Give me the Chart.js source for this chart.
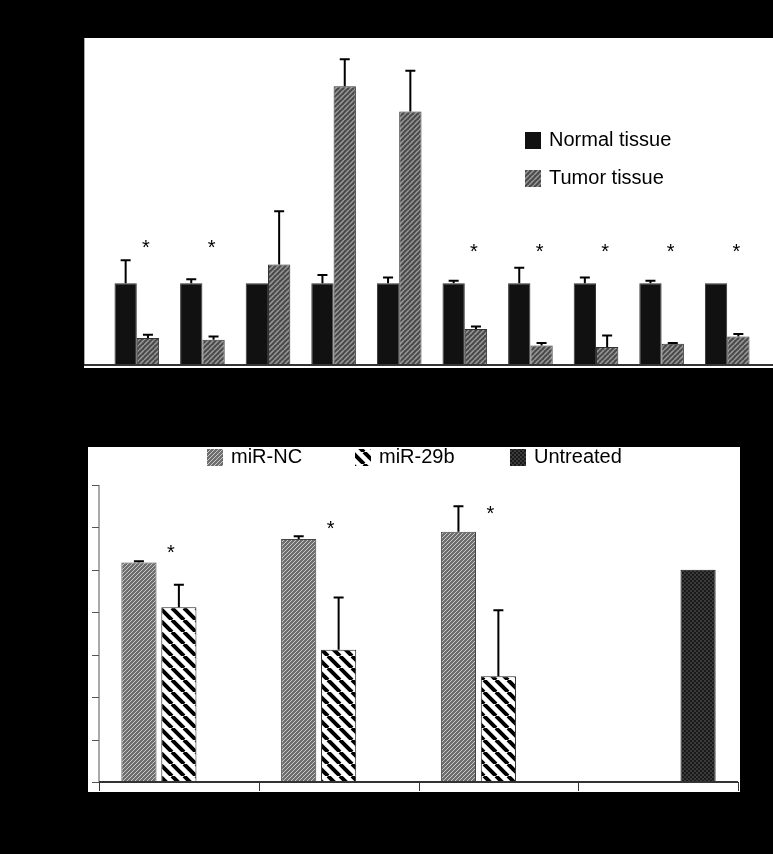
<!DOCTYPE html>
<html>
<head>
<meta charset="utf-8">
<script src="https://cdn.jsdelivr.net/npm/chart.js@4"></script>
<style>
  html, body { margin: 0; padding: 0; background: #000; }
  body { width: 773px; height: 854px; position: relative; overflow: hidden; }
  .panel { position: absolute; background: #fff; }
  .wrap { position: absolute; }
</style>
</head>
<body>
<div class="panel" style="left:84px;top:38px;width:689px;height:330px;"></div>
<div class="panel" style="left:88px;top:447px;width:652px;height:345px;"></div>
<div class="wrap" style="left:84px;top:30px;width:689px;height:340px;"><canvas id="tissueChart"></canvas></div>
<div class="wrap" style="left:88px;top:440px;width:652px;height:352px;"><canvas id="treatChart"></canvas></div>
<script>
'use strict';

// ---- top chart data ----
const tissueGroups = ['1', '2', '3', '4', '5', '6', '7', '8', '9', '10'];
const normalVals   = [1, 1, 1, 1, 1, 1, 1, 1, 1, 1];
const normalErr    = [1.28, 1.05, 1.0, 1.1, 1.07, 1.03, 1.19, 1.07, 1.03, 1.0];
const tumorVals    = [0.33, 0.31, 1.23, 3.41, 3.1, 0.44, 0.24, 0.22, 0.26, 0.35];
const tumorErr     = [0.37, 0.35, 1.88, 3.74, 3.6, 0.47, 0.27, 0.36, 0.27, 0.38];
const tissueStars  = [1.5, 1.5, null, null, null, 1.45, 1.45, 1.45, 1.45, 1.45];
const tissueTicks  = [0, 0.5, 1, 1.5, 2, 2.5, 3, 3.5, 4];

// ---- bottom chart data ----
const treatGroups  = ['A', 'B', 'C', 'D'];
const ncVals       = [1.035, 1.145, 1.18, null];
const ncErr        = [1.04, 1.158, 1.30, null];
const m29Vals      = [0.824, 0.623, 0.499, null];
const m29Err       = [0.93, 0.87, 0.81, null];
const untreatVals  = [null, null, null, 1.0];
const treatStars   = [1.105, 1.22, 1.29, null];
const treatTicks   = [0, 0.2, 0.4, 0.6, 0.8, 1.0, 1.2, 1.4];

function stripePattern(bg, fg, size, lw, dir) {
  const c = document.createElement('canvas');
  c.width = size; c.height = size;
  const g = c.getContext('2d');
  g.fillStyle = bg; g.fillRect(0, 0, size, size);
  g.strokeStyle = fg; g.lineWidth = lw;
  g.beginPath();
  for (let k = -1; k <= 1; k++) {
    if (dir > 0) { g.moveTo(k * size, size); g.lineTo(k * size + size, 0); }
    else { g.moveTo(k * size, 0); g.lineTo(k * size + size, size); }
  }
  g.stroke();
  return g.createPattern(c, 'repeat');
}
function crossPattern() {
  const c = document.createElement('canvas');
  c.width = 4; c.height = 4;
  const g = c.getContext('2d');
  g.fillStyle = '#1a1a1a'; g.fillRect(0, 0, 4, 4);
  g.fillStyle = '#3a3a3a'; g.fillRect(0, 0, 2, 2); g.fillRect(2, 2, 2, 2);
  return g.createPattern(c, 'repeat');
}

const tumorFill  = stripePattern('#4a4a4a', '#9a9a9a', 5, 1.5, 1);
const ncFill     = stripePattern('#6e6e6e', '#c8c8c8', 4, 1, 1);
const m29Fill    = stripePattern('#ffffff', '#000000', 12, 4, -1);
const untreatFill = crossPattern();

// error bars, stars, axes and legend drawn with the scales
const decor = {
  id: 'decor',
  afterDatasetsDraw(chart, args, opts) {
    const ctx = chart.ctx, x = chart.scales.x, y = chart.scales.y, area = chart.chartArea;
    ctx.save();
    ctx.strokeStyle = '#000'; ctx.lineWidth = 2;
    opts.errors.forEach(([dsIdx, errs]) => {
      const meta = chart.getDatasetMeta(dsIdx);
      errs.forEach((e, i) => {
        const v = chart.data.datasets[dsIdx].data[i];
        if (e == null || v == null || e <= v + 0.001) return;
        const bx = meta.data[i].x, y0 = y.getPixelForValue(v), y1 = y.getPixelForValue(e);
        ctx.beginPath();
        ctx.moveTo(bx, y0); ctx.lineTo(bx, y1);
        ctx.moveTo(bx - 5, y1); ctx.lineTo(bx + 5, y1);
        ctx.stroke();
      });
    });
    // stars
    ctx.fillStyle = '#000';
    ctx.font = '20px "Liberation Sans", Arial, sans-serif';
    ctx.textAlign = 'center'; ctx.textBaseline = 'middle';
    const sMeta = chart.getDatasetMeta(opts.starDs);
    opts.stars.forEach((s, i) => {
      if (s == null) return;
      ctx.fillText('*', sMeta.data[i].x + opts.starDx, y.getPixelForValue(s) + 6);
    });
    // y axis
    const ax = area.left - opts.axisGap;
    ctx.lineWidth = 1; ctx.strokeStyle = '#555';
    ctx.beginPath();
    ctx.moveTo(ax, y.getPixelForValue(opts.ticks[opts.ticks.length - 1]));
    ctx.lineTo(ax, y.getPixelForValue(0));
    opts.ticks.forEach(t => {
      const ty = Math.round(y.getPixelForValue(t)) + 0.5;
      ctx.moveTo(ax - 7, ty); ctx.lineTo(ax, ty);
    });
    ctx.stroke();
    // x axis
    ctx.lineWidth = 2; ctx.strokeStyle = '#333';
    ctx.beginPath();
    ctx.moveTo(ax, y.getPixelForValue(0)); ctx.lineTo(area.right + opts.xExtend, y.getPixelForValue(0));
    ctx.stroke();
    if (opts.xTicks) {
      ctx.lineWidth = 1;
      ctx.beginPath();
      const n = chart.data.labels.length, w = (area.right - area.left) / n;
      for (let i = 0; i <= n; i++) {
        const tx = Math.round(area.left + i * w) + 0.5;
        ctx.moveTo(tx, y.getPixelForValue(0)); ctx.lineTo(tx, y.getPixelForValue(0) + 9);
      }
      ctx.stroke();
    }
    // legend
    ctx.font = '20px "Liberation Sans", Arial, sans-serif';
    ctx.textAlign = 'left'; ctx.textBaseline = 'middle';
    opts.legend.forEach(l => {
      ctx.fillStyle = l.fill;
      ctx.fillRect(l.x - chart.canvas.offsetParent.offsetLeft * 0, l.y - 8, 16, 17);
      ctx.fillStyle = '#000';
      ctx.fillText(l.text, l.x + 24, l.y);
    });
    ctx.restore();
  }
};

const baseOpts = (ticks, pad) => ({
  responsive: true,
  maintainAspectRatio: false,
  animation: false,
  layout: { padding: pad },
  plugins: { legend: { display: false }, tooltip: { enabled: false } },
  scales: {
    x: { display: false },
    y: { display: false, min: 0, max: ticks[ticks.length - 1] }
  }
});

const topOpts = baseOpts(tissueTicks, { left: 20, right: 13, top: 8, bottom: 5 });
topOpts.plugins.decor = {
  errors: [[0, normalErr], [1, tumorErr]],
  stars: tissueStars, starDs: 1, starDx: -2,
  ticks: tissueTicks, axisGap: 20, xExtend: 13, xTicks: false,
  legend: [
    { text: 'Normal tissue', x: 441, y: 110, fill: '#111' },
    { text: 'Tumor tissue', x: 441, y: 148, fill: tumorFill }
  ]
};
new Chart(document.getElementById('tissueChart'), {
  type: 'bar',
  data: {
    labels: tissueGroups,
    datasets: [
      { label: 'Normal tissue', data: normalVals, backgroundColor: '#111', borderColor: '#333', borderWidth: 1,
        categoryPercentage: 0.68, barPercentage: 1.0 },
      { label: 'Tumor tissue', data: tumorVals, backgroundColor: tumorFill, borderColor: '#333', borderWidth: 1,
        categoryPercentage: 0.68, barPercentage: 1.0 }
    ]
  },
  options: topOpts,
  plugins: [decor]
});

const botOpts = baseOpts(treatTicks, { left: 11, right: 2, top: 45, bottom: 10 });
botOpts.plugins.decor = {
  errors: [[0, ncErr], [1, m29Err]],
  stars: treatStars, starDs: 0, starDx: 32,
  ticks: treatTicks, axisGap: 0, xExtend: 0, xTicks: true,
  legend: [
    { text: 'miR-NC', x: 119, y: 17, fill: ncFill },
    { text: 'miR-29b', x: 267, y: 17, fill: m29Fill },
    { text: 'Untreated', x: 422, y: 17, fill: untreatFill }
  ]
};
new Chart(document.getElementById('treatChart'), {
  type: 'bar',
  data: {
    labels: treatGroups,
    datasets: [
      { label: 'miR-NC', data: ncVals, backgroundColor: ncFill, borderColor: '#444', borderWidth: 1,
        categoryPercentage: 0.75, barPercentage: 0.88 },
      { label: 'miR-29b', data: m29Vals, backgroundColor: m29Fill, borderColor: '#222', borderWidth: 1,
        categoryPercentage: 0.75, barPercentage: 0.88 },
      { label: 'Untreated', data: untreatVals, backgroundColor: untreatFill, borderColor: '#111', borderWidth: 1,
        categoryPercentage: 0.75, barPercentage: 0.88 }
    ]
  },
  options: botOpts,
  plugins: [decor]
});
</script>
</body>
</html>
